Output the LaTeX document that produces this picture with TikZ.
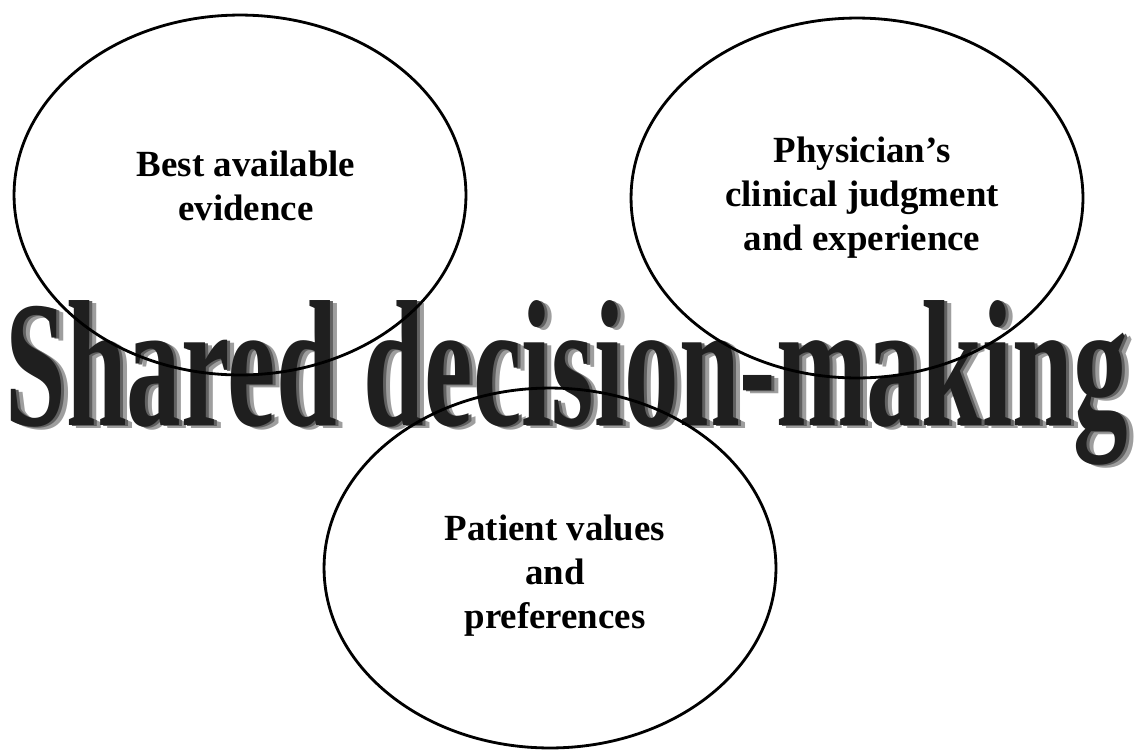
\documentclass[tikz,border=0pt]{standalone}
\usepackage{fontspec}
\setmainfont{Liberation Serif}
\usetikzlibrary{shapes.geometric}

\newcommand{\sdmtitle}{\resizebox{22.45cm}{2.5cm}{\bfseries Shared decision-making}}

\begin{document}
\begin{tikzpicture}[x=0.02cm,y=-0.02cm,
  bubble/.style = {draw, ellipse, line width=1.6pt, minimum width=9.04cm, minimum height=7.2cm, inner sep=0pt},
  lbl/.style = {align=center, font=\fontsize{21}{25}\selectfont\bfseries},
  wordart/.style = {anchor=base west, inner sep=0pt}]
\useasboundingbox (0,0) rectangle (1138,751);
% big title, shadow first
\node[wordart, text=black!38] (shade) at (12,428) {\sdmtitle};
\node[wordart, text=black!62] (mid) at (8,426) {\sdmtitle};
\node[wordart, text=black!88] (title) at (5,425) {\sdmtitle};
% the three circles
\node[bubble] (evid) at (240,195) {};
\node[bubble] (phys) at (857,198) {};
\node[bubble] (pat) at (550,568) {};
\node[lbl] (evidtxt) at (246,186) {Best available\\evidence};
\node[lbl] (phystxt) at (862,198) {Physician’s\\clinical judgment\\and experience};
\node[lbl] (pattxt) at (555,576) {Patient values\\and\\preferences};
\end{tikzpicture}
\end{document}
